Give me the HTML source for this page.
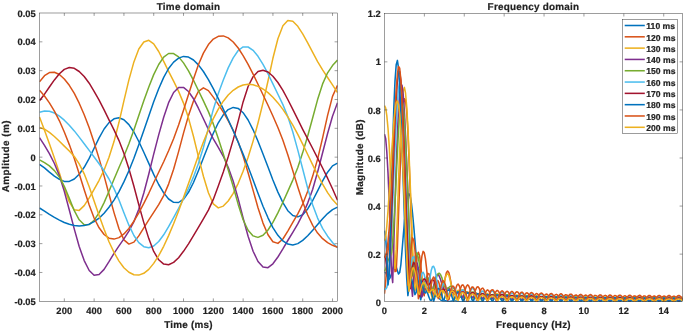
<!DOCTYPE html>
<html><head><meta charset="utf-8"><title>Time domain / Frequency domain</title>
<style>html,body{margin:0;padding:0;background:#fff}svg{display:block}</style></head>
<body>
<svg width="685" height="333" viewBox="0 0 685 333">
<rect width="685" height="333" fill="#fff"/>
<defs><clipPath id="cl"><rect x="39.50" y="13.00" width="298.00" height="288.30"/></clipPath><clipPath id="cr"><rect x="384.50" y="13.60" width="298.00" height="288.10"/></clipPath></defs>
<g clip-path="url(#cl)" fill="none" stroke-width="1.5" stroke-linejoin="round">
<path d="M39.5,164.3 L44.5,167.9 L49.4,172.1 L54.4,176.1 L59.4,179.4 L64.3,181.4 L69.3,181.4 L74.3,179.0 L79.2,174.2 L84.2,167.3 L89.2,158.4 L94.1,148.2 L99.1,137.9 L104.1,129.0 L109.0,122.6 L114.0,118.8 L119.0,117.8 L123.9,119.7 L128.9,124.6 L133.9,132.0 L138.8,141.5 L143.8,152.2 L148.8,163.4 L153.7,174.4 L158.7,184.5 L163.7,192.9 L168.6,199.0 L173.6,202.3 L178.6,202.5 L183.5,199.2 L188.5,192.3 L193.5,182.5 L198.4,170.8 L203.4,158.1 L208.4,145.3 L213.3,133.2 L218.3,122.8 L223.3,114.8 L228.2,109.6 L233.2,107.4 L238.2,108.4 L243.1,112.7 L248.1,120.0 L253.1,129.8 L258.0,141.2 L263.0,153.9 L268.0,167.0 L272.9,180.0 L277.9,192.1 L282.9,202.6 L287.8,210.7 L292.8,215.5 L297.8,216.9 L302.7,214.7 L307.7,208.9 L312.7,200.5 L317.6,190.8 L322.6,180.9 L327.6,172.2 L332.5,165.9 L337.5,163.2" stroke="#0072BD"/>
<path d="M39.5,81.9 L44.5,75.7 L49.4,72.6 L54.4,72.3 L59.4,74.5 L64.3,79.0 L69.3,85.3 L74.3,93.4 L79.2,103.2 L84.2,114.7 L89.2,127.8 L94.1,142.5 L99.1,158.6 L104.1,175.9 L109.0,194.2 L114.0,212.6 L119.0,228.7 L123.9,239.9 L128.9,244.1 L133.9,242.1 L138.8,235.9 L143.8,227.8 L148.8,219.8 L153.7,212.4 L158.7,204.7 L163.7,195.6 L168.6,184.1 L173.6,169.2 L178.6,151.6 L183.5,133.1 L188.5,115.6 L193.5,101.1 L198.4,91.4 L203.4,87.8 L208.4,90.6 L213.3,97.1 L218.3,104.4 L223.3,112.1 L228.2,120.6 L233.2,130.4 L238.2,142.1 L243.1,156.1 L248.1,172.7 L253.1,190.4 L258.0,207.8 L263.0,223.1 L268.0,234.8 L272.9,241.8 L277.9,243.4 L282.9,239.0 L287.8,231.1 L292.8,222.3 L297.8,213.9 L302.7,204.0 L307.7,191.2 L312.7,176.1 L317.6,159.1 L322.6,137.8 L327.6,115.4 L332.5,96.4 L337.5,85.4" stroke="#D95319"/>
<path d="M39.5,116.9 L44.5,130.2 L49.4,143.8 L54.4,158.0 L59.4,173.0 L64.3,188.6 L69.3,201.9 L74.3,209.8 L79.2,210.4 L84.2,205.6 L89.2,197.8 L94.1,189.3 L99.1,180.3 L104.1,169.9 L109.0,157.3 L114.0,141.6 L119.0,122.3 L123.9,100.9 L128.9,79.9 L133.9,61.9 L138.8,49.0 L143.8,42.0 L148.8,40.3 L153.7,43.8 L158.7,51.5 L163.7,61.4 L168.6,71.3 L173.6,81.2 L178.6,91.4 L183.5,103.1 L188.5,118.1 L193.5,136.5 L198.4,156.6 L203.4,176.2 L208.4,192.8 L213.3,203.9 L218.3,207.9 L223.3,206.1 L228.2,201.0 L233.2,193.3 L238.2,183.3 L243.1,171.3 L248.1,157.2 L253.1,141.1 L258.0,123.0 L263.0,102.9 L268.0,81.0 L272.9,58.3 L277.9,38.8 L282.9,25.8 L287.8,20.5 L292.8,21.2 L297.8,26.3 L302.7,33.8 L307.7,42.8 L312.7,52.4 L317.6,61.6 L322.6,69.9 L327.6,77.5 L332.5,84.9 L337.5,92.5" stroke="#EDB120"/>
<path d="M39.5,137.6 L44.5,145.4 L49.4,153.7 L54.4,163.5 L59.4,175.8 L64.3,191.4 L69.3,210.0 L74.3,229.1 L79.2,246.5 L84.2,260.6 L89.2,270.5 L94.1,275.3 L99.1,274.5 L104.1,269.4 L109.0,261.7 L114.0,253.4 L119.0,245.9 L123.9,238.9 L128.9,231.1 L133.9,221.6 L138.8,209.2 L143.8,193.0 L148.8,174.0 L153.7,154.1 L158.7,134.9 L163.7,117.3 L168.6,102.7 L173.6,92.5 L178.6,87.5 L183.5,87.4 L188.5,91.5 L193.5,98.7 L198.4,108.2 L203.4,118.8 L208.4,129.4 L213.3,138.8 L218.3,147.3 L223.3,156.3 L228.2,167.2 L233.2,181.3 L238.2,198.9 L243.1,218.0 L248.1,236.3 L253.1,251.2 L258.0,261.5 L263.0,267.1 L268.0,267.7 L272.9,263.8 L277.9,257.0 L282.9,248.9 L287.8,240.5 L292.8,232.3 L297.8,223.9 L302.7,214.4 L307.7,203.1 L312.7,189.2 L317.6,172.0 L322.6,152.7 L327.6,133.5 L332.5,116.2 L337.5,102.8" stroke="#7E2F8E"/>
<path d="M39.5,159.8 L44.5,162.6 L49.4,165.9 L54.4,170.6 L59.4,177.1 L64.3,186.3 L69.3,198.4 L74.3,210.7 L79.2,219.8 L84.2,224.7 L89.2,224.6 L94.1,220.3 L99.1,212.6 L104.1,202.6 L109.0,191.2 L114.0,179.2 L119.0,167.5 L123.9,156.2 L128.9,143.8 L133.9,129.9 L138.8,115.4 L143.8,100.8 L148.8,87.0 L153.7,74.6 L158.7,64.5 L163.7,57.2 L168.6,53.5 L173.6,53.6 L178.6,56.9 L183.5,62.9 L188.5,70.9 L193.5,80.3 L198.4,90.5 L203.4,100.9 L208.4,111.6 L213.3,123.9 L218.3,138.5 L223.3,153.9 L228.2,169.8 L233.2,186.5 L238.2,204.4 L243.1,219.7 L248.1,230.2 L253.1,235.9 L258.0,237.4 L263.0,235.2 L268.0,230.0 L272.9,222.4 L277.9,212.9 L282.9,202.3 L287.8,191.4 L292.8,180.1 L297.8,167.4 L302.7,152.6 L307.7,136.0 L312.7,117.8 L317.6,99.6 L322.6,83.9 L327.6,72.8 L332.5,65.6 L337.5,60.1" stroke="#77AC30"/>
<path d="M39.5,112.2 L44.5,110.9 L49.4,111.2 L54.4,113.0 L59.4,116.1 L64.3,120.2 L69.3,125.2 L74.3,130.9 L79.2,137.1 L84.2,143.7 L89.2,150.4 L94.1,157.0 L99.1,163.7 L104.1,170.8 L109.0,179.0 L114.0,188.6 L119.0,200.0 L123.9,212.8 L128.9,225.2 L133.9,235.5 L138.8,242.7 L143.8,246.7 L148.8,247.8 L153.7,246.0 L158.7,241.5 L163.7,234.8 L168.6,226.7 L173.6,217.6 L178.6,208.4 L183.5,198.8 L188.5,188.5 L193.5,176.9 L198.4,163.5 L203.4,147.5 L208.4,128.1 L213.3,109.4 L218.3,93.6 L223.3,80.0 L228.2,67.9 L233.2,57.8 L238.2,50.5 L243.1,46.9 L248.1,47.0 L253.1,50.3 L258.0,56.3 L263.0,64.3 L268.0,73.7 L272.9,83.9 L277.9,94.3 L282.9,104.6 L287.8,116.5 L292.8,132.0 L297.8,150.1 L302.7,169.0 L307.7,188.4 L312.7,205.0 L317.6,218.1 L322.6,228.3 L327.6,236.2 L332.5,242.5 L337.5,247.8" stroke="#4DBEEE"/>
<path d="M39.5,100.7 L44.5,94.2 L49.4,87.0 L54.4,79.9 L59.4,73.8 L64.3,69.4 L69.3,67.5 L74.3,68.3 L79.2,71.5 L84.2,76.5 L89.2,83.2 L94.1,91.3 L99.1,100.2 L104.1,109.9 L109.0,119.8 L114.0,129.9 L119.0,140.6 L123.9,153.3 L128.9,168.7 L133.9,186.3 L138.8,204.7 L143.8,222.6 L148.8,238.6 L153.7,251.4 L158.7,259.8 L163.7,264.1 L168.6,264.7 L173.6,262.4 L178.6,257.7 L183.5,251.3 L188.5,243.8 L193.5,235.7 L198.4,227.4 L203.4,218.9 L208.4,210.1 L213.3,199.4 L218.3,186.0 L223.3,171.9 L228.2,156.7 L233.2,139.9 L238.2,121.1 L243.1,101.9 L248.1,86.5 L253.1,76.7 L258.0,71.6 L263.0,70.3 L268.0,72.0 L272.9,76.2 L277.9,82.5 L282.9,90.4 L287.8,99.5 L292.8,109.3 L297.8,119.4 L302.7,129.3 L307.7,138.9 L312.7,148.5 L317.6,158.2 L322.6,168.0 L327.6,178.2 L332.5,188.8 L337.5,200.1" stroke="#A2142F"/>
<path d="M39.5,208.0 L44.5,211.2 L49.4,214.4 L54.4,217.4 L59.4,220.1 L64.3,222.5 L69.3,224.3 L74.3,225.5 L79.2,226.0 L84.2,225.6 L89.2,224.2 L94.1,221.7 L99.1,218.1 L104.1,213.3 L109.0,207.3 L114.0,200.1 L119.0,191.6 L123.9,181.9 L128.9,170.8 L133.9,158.3 L138.8,144.8 L143.8,130.6 L148.8,116.0 L153.7,101.8 L158.7,88.7 L163.7,77.4 L168.6,68.5 L173.6,62.1 L178.6,58.1 L183.5,56.4 L188.5,57.1 L193.5,60.0 L198.4,64.9 L203.4,71.5 L208.4,79.6 L213.3,88.7 L218.3,98.7 L223.3,109.1 L228.2,119.8 L233.2,130.8 L238.2,142.2 L243.1,154.1 L248.1,166.7 L253.1,179.9 L258.0,193.3 L263.0,206.2 L268.0,217.8 L272.9,227.6 L277.9,235.3 L282.9,240.9 L287.8,244.1 L292.8,245.0 L297.8,243.6 L302.7,240.4 L307.7,235.8 L312.7,230.3 L317.6,224.5 L322.6,218.8 L327.6,213.6 L332.5,209.6 L337.5,207.1" stroke="#0072BD"/>
<path d="M39.5,90.3 L44.5,96.0 L49.4,102.9 L54.4,111.2 L59.4,120.8 L64.3,132.0 L69.3,144.6 L74.3,158.6 L79.2,173.8 L84.2,189.7 L89.2,205.0 L94.1,218.0 L99.1,227.8 L104.1,234.5 L109.0,238.2 L114.0,239.1 L119.0,237.6 L123.9,233.9 L128.9,228.4 L133.9,221.2 L138.8,212.8 L143.8,203.4 L148.8,193.3 L153.7,182.8 L158.7,172.3 L163.7,161.8 L168.6,150.8 L173.6,138.7 L178.6,125.1 L183.5,110.2 L188.5,94.5 L193.5,79.0 L198.4,64.8 L203.4,53.1 L208.4,44.6 L213.3,39.1 L218.3,36.3 L223.3,35.9 L228.2,37.9 L233.2,42.0 L238.2,48.0 L243.1,55.6 L248.1,64.4 L253.1,74.1 L258.0,84.3 L263.0,94.8 L268.0,105.3 L272.9,116.0 L277.9,127.5 L282.9,140.2 L287.8,154.7 L292.8,170.7 L297.8,187.0 L302.7,202.1 L307.7,215.0 L312.7,225.3 L317.6,233.1 L322.6,238.7 L327.6,242.7 L332.5,245.3 L337.5,247.3" stroke="#D95319"/>
<path d="M39.5,127.4 L44.5,129.2 L49.4,132.4 L54.4,136.5 L59.4,141.2 L64.3,146.1 L69.3,151.0 L74.3,156.5 L79.2,163.8 L84.2,173.8 L89.2,186.7 L94.1,201.0 L99.1,215.5 L104.1,229.3 L109.0,241.7 L114.0,252.4 L119.0,261.1 L123.9,267.8 L128.9,272.3 L133.9,274.7 L138.8,275.1 L143.8,273.3 L148.8,269.4 L153.7,263.4 L158.7,255.7 L163.7,246.3 L168.6,235.6 L173.6,223.7 L178.6,210.9 L183.5,197.5 L188.5,183.5 L193.5,169.4 L198.4,155.5 L203.4,142.1 L208.4,129.7 L213.3,118.6 L218.3,109.1 L223.3,101.2 L228.2,95.0 L233.2,90.3 L238.2,87.0 L243.1,85.0 L248.1,84.3 L253.1,84.8 L258.0,86.4 L263.0,89.0 L268.0,92.6 L272.9,97.3 L277.9,102.9 L282.9,109.4 L287.8,116.8 L292.8,125.2 L297.8,134.3 L302.7,144.2 L307.7,154.5 L312.7,164.8 L317.6,174.8 L322.6,184.2 L327.6,192.6 L332.5,199.6 L337.5,205.0" stroke="#EDB120"/>
</g>
<g clip-path="url(#cr)" fill="none" stroke-width="1.55" stroke-linejoin="round">
<path d="M384.5,271.9 L385.7,272.8 L386.8,275.2 L388.0,278.0 L389.2,279.1 L390.3,277.3 L391.5,273.4 L392.7,269.0 L393.8,266.0 L395.0,265.3 L396.2,267.1 L397.4,270.8 L398.5,274.0 L399.7,272.6 L400.9,264.3 L402.0,251.3 L403.2,236.6 L404.4,222.3 L405.5,210.0 L406.7,200.6 L407.9,195.1 L409.0,193.7 L410.2,196.5 L411.4,203.2 L412.5,213.2 L413.7,225.8 L414.9,240.0 L416.1,254.7 L417.2,269.2 L418.4,282.4 L419.6,293.7 L420.7,299.8 L421.9,294.3 L423.1,290.3 L424.2,288.7 L425.4,289.0 L426.6,290.8 L427.7,293.6 L428.9,296.9 L430.1,300.1 L431.2,300.5 L432.4,298.4 L433.6,296.8 L434.8,296.0 L435.9,295.9 L437.1,296.5 L438.3,297.5 L439.4,298.6 L440.6,299.8 L441.8,300.6 L442.9,300.9 L444.1,300.9 L445.3,300.8 L446.4,301.0 L447.6,301.2 L448.8,301.5 L449.9,301.6 L451.1,301.3 L452.3,301.1 L453.4,300.9 L454.6,300.8 L455.8,300.9 L457.0,301.2 L458.1,301.4 L459.3,301.7 L460.5,302.0 L461.6,301.9 L462.8,301.7 L464.0,301.6 L465.1,301.5 L466.3,301.4 L467.5,301.4 L468.6,301.4 L469.8,301.4 L471.0,301.5 L472.1,301.6 L473.3,301.6 L474.5,301.6 L475.7,301.6 L476.8,301.6 L478.0,301.6 L479.2,301.6 L480.3,301.7 L481.5,301.8 L482.7,302.0 L483.8,302.0 L485.0,301.9 L486.2,301.8 L487.3,301.7 L488.5,301.7 L489.7,301.8 L490.8,302.0 L492.0,302.1 L493.2,302.0 L494.4,301.8 L495.5,301.7 L496.7,301.6 L497.9,301.6 L499.0,301.7 L500.2,301.8 L501.4,302.0 L502.5,302.1 L503.7,301.9 L504.9,301.7 L506.0,301.5 L507.2,301.5 L508.4,301.5 L509.5,301.6 L510.7,301.8 L511.9,301.9 L513.0,301.9 L514.2,301.8 L515.4,301.7 L516.6,301.6 L517.7,301.6 L518.9,301.7 L520.1,301.8 L521.2,302.0 L522.4,302.1 L523.6,302.0 L524.7,301.8 L525.9,301.7 L527.1,301.6 L528.2,301.7 L529.4,301.8 L530.6,302.0 L531.7,302.1 L532.9,302.0 L534.1,301.8 L535.3,301.7 L536.4,301.7 L537.6,301.7 L538.8,301.8 L539.9,301.9 L541.1,302.1 L542.3,302.1 L543.4,301.9 L544.6,301.7 L545.8,301.7 L546.9,301.7 L548.1,301.7 L549.3,301.9 L550.4,302.1 L551.6,302.1 L552.8,301.9 L554.0,301.8 L555.1,301.7 L556.3,301.6 L557.5,301.7 L558.6,301.8 L559.8,302.0 L561.0,302.2 L562.1,302.0 L563.3,301.9 L564.5,301.7 L565.6,301.7 L566.8,301.7 L568.0,301.8 L569.1,301.9 L570.3,302.1 L571.5,302.1 L572.6,301.9 L573.8,301.8 L575.0,301.7 L576.2,301.7 L577.3,301.7 L578.5,301.8 L579.7,302.0 L580.8,302.2 L582.0,302.0 L583.2,301.8 L584.3,301.7 L585.5,301.7 L586.7,301.7 L587.8,301.8 L589.0,301.9 L590.2,302.1 L591.3,302.1 L592.5,301.9 L593.7,301.8 L594.9,301.7 L596.0,301.7 L597.2,301.8 L598.4,301.9 L599.5,302.1 L600.7,302.1 L601.9,302.0 L603.0,301.8 L604.2,301.7 L605.4,301.7 L606.5,301.7 L607.7,301.9 L608.9,302.0 L610.0,302.2 L611.2,302.0 L612.4,301.9 L613.6,301.8 L614.7,301.7 L615.9,301.7 L617.1,301.8 L618.2,301.9 L619.4,302.1 L620.6,302.1 L621.7,301.9 L622.9,301.8 L624.1,301.7 L625.2,301.7 L626.4,301.8 L627.6,301.9 L628.7,302.1 L629.9,302.2 L631.1,302.0 L632.2,301.8 L633.4,301.7 L634.6,301.7 L635.8,301.7 L636.9,301.8 L638.1,302.0 L639.3,302.2 L640.4,302.1 L641.6,301.9 L642.8,301.8 L643.9,301.7 L645.1,301.7 L646.3,301.8 L647.4,301.9 L648.6,302.1 L649.8,302.1 L650.9,302.0 L652.1,301.8 L653.3,301.7 L654.5,301.7 L655.6,301.8 L656.8,301.9 L658.0,302.0 L659.1,302.2 L660.3,302.0 L661.5,301.9 L662.6,301.8 L663.8,301.7 L665.0,301.8 L666.1,301.8 L667.3,302.0 L668.5,302.1 L669.6,302.1 L670.8,301.9 L672.0,301.8 L673.2,301.7 L674.3,301.7 L675.5,301.8 L676.7,301.9 L677.8,302.1 L679.0,302.2 L680.2,302.0 L681.3,301.9 L682.5,301.8" stroke="#0072BD"/>
<path d="M384.5,293.7 L385.7,281.7 L386.8,265.3 L388.0,251.1 L389.2,240.7 L390.3,235.4 L391.5,236.3 L392.7,243.6 L393.8,256.8 L395.0,271.6 L396.2,271.0 L397.4,247.2 L398.5,215.2 L399.7,181.9 L400.9,151.1 L402.0,125.6 L403.2,107.6 L404.4,98.8 L405.5,100.0 L406.7,111.1 L407.9,131.2 L409.0,158.7 L410.2,191.0 L411.4,225.6 L412.5,259.3 L413.7,287.4 L414.9,283.6 L416.1,266.4 L417.2,255.6 L418.4,252.3 L419.6,255.8 L420.7,264.8 L421.9,277.4 L423.1,291.1 L424.2,295.8 L425.4,285.5 L426.6,277.4 L427.7,273.4 L428.9,273.8 L430.1,278.1 L431.2,285.2 L432.4,293.2 L433.6,295.4 L434.8,289.2 L435.9,283.5 L437.1,280.5 L438.3,280.9 L439.4,284.5 L440.6,290.4 L441.8,295.5 L442.9,291.8 L444.1,284.1 L445.3,277.3 L446.4,272.7 L447.6,271.0 L448.8,272.5 L449.9,276.8 L451.1,283.2 L452.3,290.4 L453.4,295.5 L454.6,293.1 L455.8,288.3 L457.0,285.0 L458.1,284.1 L459.3,285.8 L460.5,289.7 L461.6,295.0 L462.8,299.0 L464.0,295.1 L465.1,290.0 L466.3,286.4 L467.5,284.9 L468.6,285.7 L469.8,288.6 L471.0,293.2 L472.1,298.7 L473.3,299.1 L474.5,293.8 L475.7,289.6 L476.8,287.2 L478.0,286.7 L479.2,288.2 L480.3,291.5 L481.5,296.0 L482.7,301.0 L483.8,298.2 L485.0,294.0 L486.2,291.1 L487.3,289.9 L488.5,290.4 L489.7,292.7 L490.8,296.2 L492.0,300.3 L493.2,299.2 L494.4,295.2 L495.5,292.2 L496.7,290.6 L497.9,290.6 L499.0,292.2 L500.2,295.1 L501.4,298.9 L502.5,300.9 L503.7,297.1 L504.9,293.9 L506.0,291.9 L507.2,291.3 L508.4,292.2 L509.5,294.5 L510.7,297.7 L511.9,301.3 L513.0,298.8 L514.2,295.4 L515.4,292.9 L516.6,291.7 L517.7,291.9 L518.9,293.5 L520.1,296.2 L521.2,299.5 L522.4,300.8 L523.6,297.6 L524.7,294.9 L525.9,293.2 L527.1,292.8 L528.2,293.7 L529.4,295.8 L530.6,298.6 L531.7,301.8 L532.9,299.1 L534.1,296.3 L535.3,294.4 L536.4,293.5 L537.6,293.9 L538.8,295.4 L539.9,297.9 L541.1,300.8 L542.3,300.3 L543.4,297.5 L544.6,295.4 L545.8,294.2 L546.9,294.1 L548.1,295.2 L549.3,297.2 L550.4,299.9 L551.6,301.6 L552.8,298.7 L554.0,296.4 L555.1,294.9 L556.3,294.4 L557.5,295.0 L558.6,296.7 L559.8,299.0 L561.0,301.8 L562.1,299.8 L563.3,297.3 L564.5,295.6 L565.6,294.7 L566.8,294.9 L568.0,296.2 L569.1,298.2 L570.3,300.8 L571.5,300.8 L572.6,298.3 L573.8,296.3 L575.0,295.2 L576.2,295.0 L577.3,295.8 L578.5,297.5 L579.7,299.8 L580.8,301.9 L582.0,299.3 L583.2,297.1 L584.3,295.7 L585.5,295.1 L586.7,295.5 L587.8,296.9 L589.0,298.9 L590.2,301.4 L591.3,300.4 L592.5,298.1 L593.7,296.4 L594.9,295.4 L596.0,295.5 L597.2,296.4 L598.4,298.2 L599.5,300.5 L600.7,301.3 L601.9,298.9 L603.0,297.0 L604.2,295.8 L605.4,295.4 L606.5,296.0 L607.7,297.5 L608.9,299.5 L610.0,301.9 L611.2,300.0 L612.4,297.8 L613.6,296.3 L614.7,295.6 L615.9,295.8 L617.1,296.9 L618.2,298.7 L619.4,301.0 L620.6,301.0 L621.7,298.7 L622.9,297.0 L624.1,296.0 L625.2,295.8 L626.4,296.6 L627.6,298.1 L628.7,300.2 L629.9,301.8 L631.1,299.6 L632.2,297.6 L633.4,296.3 L634.6,295.9 L635.8,296.3 L636.9,297.5 L638.1,299.3 L639.3,301.6 L640.4,300.5 L641.6,298.4 L642.8,296.8 L643.9,296.0 L645.1,296.1 L646.3,297.0 L647.4,298.6 L648.6,300.7 L649.8,301.4 L650.9,299.2 L652.1,297.4 L653.3,296.3 L654.5,296.0 L655.6,296.6 L656.8,297.9 L658.0,299.8 L659.1,302.0 L660.3,300.1 L661.5,298.1 L662.6,296.7 L663.8,296.1 L665.0,296.3 L666.1,297.4 L667.3,299.1 L668.5,301.2 L669.6,300.9 L670.8,298.8 L672.0,297.2 L673.2,296.3 L674.3,296.2 L675.5,296.9 L676.7,298.4 L677.8,300.4 L679.0,301.8 L680.2,299.6 L681.3,297.8 L682.5,296.6" stroke="#D95319"/>
<path d="M384.5,105.5 L385.7,108.1 L386.8,115.6 L388.0,128.2 L389.2,145.6 L390.3,167.7 L391.5,194.0 L392.7,223.4 L393.8,252.8 L395.0,268.4 L396.2,249.4 L397.4,216.1 L398.5,181.5 L399.7,149.6 L400.9,122.8 L402.0,102.8 L403.2,90.7 L404.4,87.4 L405.5,92.8 L406.7,106.5 L407.9,127.3 L409.0,153.6 L410.2,183.4 L411.4,214.4 L412.5,244.6 L413.7,271.4 L414.9,290.5 L416.1,286.3 L417.2,276.1 L418.4,270.4 L419.6,269.7 L420.7,272.8 L421.9,278.3 L423.1,284.0 L424.2,287.4 L425.4,287.2 L426.6,285.5 L427.7,284.8 L428.9,286.1 L430.1,289.5 L431.2,294.4 L432.4,299.1 L433.6,297.0 L434.8,292.6 L435.9,289.6 L437.1,288.8 L438.3,290.4 L439.4,294.1 L440.6,298.7 L441.8,296.3 L442.9,289.6 L444.1,283.1 L445.3,278.0 L446.4,274.7 L447.6,273.8 L448.8,275.3 L449.9,279.0 L451.1,284.4 L452.3,290.8 L453.4,297.4 L454.6,300.1 L455.8,295.3 L457.0,291.8 L458.1,290.2 L459.3,290.6 L460.5,292.6 L461.6,295.9 L462.8,299.7 L464.0,299.7 L465.1,296.3 L466.3,293.6 L467.5,292.2 L468.6,292.2 L469.8,293.5 L471.0,295.9 L472.1,298.6 L473.3,299.9 L474.5,298.0 L475.7,295.9 L476.8,294.8 L478.0,294.7 L479.2,295.9 L480.3,298.0 L481.5,300.4 L482.7,299.9 L483.8,297.3 L485.0,295.1 L486.2,293.7 L487.3,293.5 L488.5,294.4 L489.7,296.2 L490.8,298.7 L492.0,300.4 L493.2,298.6 L494.4,296.2 L495.5,294.4 L496.7,293.7 L497.9,294.0 L499.0,295.3 L500.2,297.5 L501.4,299.9 L502.5,300.2 L503.7,298.0 L504.9,296.0 L506.0,294.9 L507.2,294.7 L508.4,295.5 L509.5,297.3 L510.7,299.7 L511.9,301.6 L513.0,299.3 L514.2,297.1 L515.4,295.6 L516.6,295.0 L517.7,295.3 L518.9,296.6 L520.1,298.6 L521.2,301.0 L522.4,300.5 L523.6,298.3 L524.7,296.6 L525.9,295.6 L527.1,295.6 L528.2,296.4 L529.4,298.1 L530.6,300.2 L531.7,301.4 L532.9,299.3 L534.1,297.5 L535.3,296.2 L536.4,295.8 L537.6,296.3 L538.8,297.6 L539.9,299.4 L541.1,301.2 L542.3,300.2 L543.4,298.3 L544.6,296.8 L545.8,296.1 L546.9,296.2 L548.1,297.1 L549.3,298.6 L550.4,300.5 L551.6,301.2 L552.8,299.4 L554.0,297.8 L555.1,296.8 L556.3,296.6 L557.5,297.2 L558.6,298.4 L559.8,300.1 L561.0,301.5 L562.1,300.0 L563.3,298.3 L564.5,297.1 L565.6,296.6 L566.8,296.9 L568.0,297.8 L569.1,299.3 L570.3,301.1 L571.5,300.9 L572.6,299.2 L573.8,297.8 L575.0,297.0 L576.2,296.9 L577.3,297.6 L578.5,298.8 L579.7,300.5 L580.8,301.4 L582.0,299.9 L583.2,298.4 L584.3,297.4 L585.5,297.0 L586.7,297.4 L587.8,298.4 L589.0,299.9 L590.2,301.4 L591.3,300.6 L592.5,299.0 L593.7,297.8 L594.9,297.2 L596.0,297.3 L597.2,298.0 L598.4,299.3 L599.5,300.9 L600.7,301.3 L601.9,299.7 L603.0,298.3 L604.2,297.5 L605.4,297.3 L606.5,297.8 L607.7,298.9 L608.9,300.3 L610.0,301.6 L611.2,300.3 L612.4,298.9 L613.6,297.8 L614.7,297.4 L615.9,297.6 L617.1,298.4 L618.2,299.7 L619.4,301.2 L620.6,301.0 L621.7,299.5 L622.9,298.3 L624.1,297.6 L625.2,297.6 L626.4,298.1 L627.6,299.2 L628.7,300.7 L629.9,301.5 L631.1,300.1 L632.2,298.8 L633.4,297.9 L634.6,297.6 L635.8,297.9 L636.9,298.8 L638.1,300.1 L639.3,301.5 L640.4,300.7 L641.6,299.3 L642.8,298.2 L643.9,297.7 L645.1,297.7 L646.3,298.4 L647.4,299.6 L648.6,301.0 L649.8,301.3 L650.9,299.9 L652.1,298.6 L653.3,297.8 L654.5,297.7 L655.6,298.1 L656.8,299.1 L658.0,300.5 L659.1,301.6 L660.3,300.4 L661.5,299.1 L662.6,298.1 L663.8,297.7 L665.0,297.9 L666.1,298.6 L667.3,299.9 L668.5,301.3 L669.6,301.0 L670.8,299.6 L672.0,298.5 L673.2,297.8 L674.3,297.7 L675.5,298.3 L676.7,299.4 L677.8,300.8 L679.0,301.6 L680.2,300.2 L681.3,298.9 L682.5,298.0" stroke="#EDB120"/>
<path d="M384.5,134.2 L385.7,138.6 L386.8,151.7 L388.0,172.8 L389.2,201.0 L390.3,234.9 L391.5,271.9 L392.7,282.6 L393.8,244.4 L395.0,204.4 L396.2,167.3 L397.4,135.4 L398.5,110.2 L399.7,93.0 L400.9,84.6 L402.0,85.2 L403.2,94.5 L404.4,111.6 L405.5,135.2 L406.7,163.7 L407.9,194.9 L409.0,226.9 L410.2,257.6 L411.4,285.1 L412.5,296.3 L413.7,278.9 L414.9,267.7 L416.1,262.6 L417.2,263.1 L418.4,268.4 L419.6,277.0 L420.7,287.5 L421.9,297.1 L423.1,293.4 L424.2,285.5 L425.4,279.9 L426.6,277.3 L427.7,277.9 L428.9,281.1 L430.1,285.9 L431.2,290.1 L432.4,290.1 L433.6,285.9 L434.8,280.8 L435.9,276.8 L437.1,274.7 L438.3,274.6 L439.4,276.5 L440.6,279.8 L441.8,283.7 L442.9,287.2 L444.1,289.2 L445.3,289.4 L446.4,288.7 L447.6,288.2 L448.8,288.4 L449.9,289.4 L451.1,290.8 L452.3,292.0 L453.4,292.6 L454.6,292.5 L455.8,292.3 L457.0,292.5 L458.1,293.4 L459.3,294.9 L460.5,296.7 L461.6,297.8 L462.8,296.9 L464.0,295.1 L465.1,293.4 L466.3,292.4 L467.5,292.3 L468.6,293.1 L469.8,294.6 L471.0,296.3 L472.1,297.3 L473.3,296.9 L474.5,295.7 L475.7,294.6 L476.8,294.1 L478.0,294.4 L479.2,295.4 L480.3,296.9 L481.5,298.1 L482.7,298.3 L483.8,297.4 L485.0,296.3 L486.2,295.7 L487.3,295.8 L488.5,296.5 L489.7,297.6 L490.8,298.7 L492.0,298.7 L493.2,297.7 L494.4,296.5 L495.5,295.6 L496.7,295.4 L497.9,295.9 L499.0,296.9 L500.2,298.2 L501.4,299.1 L502.5,298.8 L503.7,297.7 L504.9,296.7 L506.0,296.2 L507.2,296.3 L508.4,297.1 L509.5,298.3 L510.7,299.4 L511.9,299.6 L513.0,298.6 L514.2,297.4 L515.4,296.7 L516.6,296.5 L517.7,296.9 L518.9,297.9 L520.1,299.2 L521.2,300.1 L522.4,299.6 L523.6,298.4 L524.7,297.4 L525.9,296.9 L527.1,297.0 L528.2,297.7 L529.4,298.7 L530.6,299.7 L531.7,299.8 L532.9,299.0 L534.1,298.0 L535.3,297.4 L536.4,297.2 L537.6,297.6 L538.8,298.5 L539.9,299.5 L541.1,300.1 L542.3,299.6 L543.4,298.6 L544.6,297.8 L545.8,297.5 L546.9,297.6 L548.1,298.3 L549.3,299.2 L550.4,300.1 L551.6,300.1 L552.8,299.2 L554.0,298.4 L555.1,297.8 L556.3,297.8 L557.5,298.2 L558.6,299.0 L559.8,299.8 L561.0,300.2 L562.1,299.6 L563.3,298.8 L564.5,298.1 L565.6,297.9 L566.8,298.1 L568.0,298.8 L569.1,299.7 L570.3,300.3 L571.5,300.0 L572.6,299.2 L573.8,298.5 L575.0,298.0 L576.2,298.1 L577.3,298.6 L578.5,299.4 L579.7,300.2 L580.8,300.3 L582.0,299.7 L583.2,298.8 L584.3,298.3 L585.5,298.1 L586.7,298.4 L587.8,299.0 L589.0,299.9 L590.2,300.4 L591.3,300.1 L592.5,299.4 L593.7,298.7 L594.9,298.4 L596.0,298.5 L597.2,298.9 L598.4,299.7 L599.5,300.4 L600.7,300.4 L601.9,299.7 L603.0,299.0 L604.2,298.5 L605.4,298.4 L606.5,298.8 L607.7,299.4 L608.9,300.2 L610.0,300.5 L611.2,300.1 L612.4,299.3 L613.6,298.7 L614.7,298.5 L615.9,298.6 L617.1,299.2 L618.2,299.9 L619.4,300.5 L620.6,300.4 L621.7,299.7 L622.9,299.0 L624.1,298.6 L625.2,298.6 L626.4,299.0 L627.6,299.7 L628.7,300.4 L629.9,300.6 L631.1,300.0 L632.2,299.3 L633.4,298.8 L634.6,298.6 L635.8,298.8 L636.9,299.4 L638.1,300.1 L639.3,300.6 L640.4,300.4 L641.6,299.6 L642.8,299.0 L643.9,298.7 L645.1,298.7 L646.3,299.2 L647.4,299.9 L648.6,300.5 L649.8,300.6 L650.9,300.0 L652.1,299.3 L653.3,298.8 L654.5,298.7 L655.6,299.0 L656.8,299.6 L658.0,300.3 L659.1,300.7 L660.3,300.3 L661.5,299.5 L662.6,299.0 L663.8,298.7 L665.0,298.8 L666.1,299.3 L667.3,300.0 L668.5,300.6 L669.6,300.5 L670.8,299.8 L672.0,299.2 L673.2,298.8 L674.3,298.7 L675.5,299.1 L676.7,299.7 L677.8,300.4 L679.0,300.7 L680.2,300.2 L681.3,299.5 L682.5,298.9" stroke="#7E2F8E"/>
<path d="M384.5,271.2 L385.7,269.2 L386.8,264.9 L388.0,260.8 L389.2,258.2 L390.3,256.4 L391.5,252.5 L392.7,242.6 L393.8,225.5 L395.0,202.9 L396.2,177.6 L397.4,152.7 L398.5,130.6 L399.7,113.5 L400.9,103.2 L402.0,100.6 L403.2,106.1 L404.4,119.4 L405.5,139.6 L406.7,165.0 L407.9,193.6 L409.0,223.2 L410.2,250.8 L411.4,271.4 L412.5,275.8 L413.7,266.9 L414.9,257.9 L416.1,253.1 L417.2,253.3 L418.4,257.9 L419.6,265.7 L420.7,275.1 L421.9,283.6 L423.1,287.6 L424.2,285.2 L425.4,280.9 L426.6,278.0 L427.7,277.5 L428.9,279.5 L430.1,283.3 L431.2,287.8 L432.4,290.3 L433.6,288.5 L434.8,283.9 L435.9,279.2 L437.1,275.5 L438.3,273.5 L439.4,273.3 L440.6,274.8 L441.8,277.6 L442.9,281.2 L444.1,284.9 L445.3,287.7 L446.4,289.0 L447.6,288.6 L448.8,287.5 L449.9,286.5 L451.1,286.3 L452.3,286.8 L453.4,288.0 L454.6,289.6 L455.8,291.2 L457.0,292.2 L458.1,292.3 L459.3,291.7 L460.5,290.8 L461.6,290.2 L462.8,290.0 L464.0,290.4 L465.1,291.1 L466.3,292.0 L467.5,292.7 L468.6,293.0 L469.8,292.9 L471.0,292.5 L472.1,292.2 L473.3,292.1 L474.5,292.4 L475.7,292.9 L476.8,293.5 L478.0,294.0 L479.2,294.2 L480.3,294.1 L481.5,293.8 L482.7,293.7 L483.8,293.8 L485.0,294.1 L486.2,294.7 L487.3,295.2 L488.5,295.5 L489.7,295.4 L490.8,295.1 L492.0,294.7 L493.2,294.4 L494.4,294.3 L495.5,294.5 L496.7,294.8 L497.9,295.1 L499.0,295.3 L500.2,295.3 L501.4,295.1 L502.5,294.8 L503.7,294.6 L504.9,294.6 L506.0,294.7 L507.2,295.0 L508.4,295.3 L509.5,295.6 L510.7,295.8 L511.9,295.9 L513.0,296.0 L514.2,296.0 L515.4,296.1 L516.6,296.2 L517.7,296.2 L518.9,296.2 L520.1,296.2 L521.2,296.1 L522.4,296.0 L523.6,296.0 L524.7,296.0 L525.9,296.0 L527.1,296.1 L528.2,296.1 L529.4,296.1 L530.6,296.1 L531.7,296.1 L532.9,296.2 L534.1,296.3 L535.3,296.4 L536.4,296.5 L537.6,296.6 L538.8,296.7 L539.9,296.7 L541.1,296.8 L542.3,296.8 L543.4,296.8 L544.6,296.8 L545.8,296.8 L546.9,296.8 L548.1,296.7 L549.3,296.7 L550.4,296.6 L551.6,296.6 L552.8,296.7 L554.0,296.8 L555.1,296.9 L556.3,296.9 L557.5,296.9 L558.6,296.8 L559.8,296.8 L561.0,296.8 L562.1,296.8 L563.3,297.0 L564.5,297.1 L565.6,297.2 L566.8,297.3 L568.0,297.3 L569.1,297.2 L570.3,297.1 L571.5,297.1 L572.6,297.2 L573.8,297.2 L575.0,297.3 L576.2,297.4 L577.3,297.4 L578.5,297.3 L579.7,297.3 L580.8,297.2 L582.0,297.3 L583.2,297.3 L584.3,297.4 L585.5,297.5 L586.7,297.5 L587.8,297.5 L589.0,297.4 L590.2,297.4 L591.3,297.4 L592.5,297.4 L593.7,297.5 L594.9,297.6 L596.0,297.7 L597.2,297.7 L598.4,297.6 L599.5,297.6 L600.7,297.6 L601.9,297.6 L603.0,297.6 L604.2,297.7 L605.4,297.7 L606.5,297.8 L607.7,297.7 L608.9,297.7 L610.0,297.7 L611.2,297.6 L612.4,297.7 L613.6,297.7 L614.7,297.7 L615.9,297.7 L617.1,297.8 L618.2,297.7 L619.4,297.7 L620.6,297.7 L621.7,297.8 L622.9,297.8 L624.1,297.9 L625.2,297.9 L626.4,297.9 L627.6,297.9 L628.7,297.8 L629.9,297.8 L631.1,297.9 L632.2,297.9 L633.4,297.9 L634.6,298.0 L635.8,298.0 L636.9,297.9 L638.1,297.9 L639.3,297.9 L640.4,297.9 L641.6,297.9 L642.8,297.9 L643.9,298.0 L645.1,298.0 L646.3,298.0 L647.4,297.9 L648.6,297.9 L649.8,297.9 L650.9,298.0 L652.1,298.0 L653.3,298.1 L654.5,298.1 L655.6,298.1 L656.8,298.0 L658.0,298.0 L659.1,298.0 L660.3,298.0 L661.5,298.0 L662.6,298.1 L663.8,298.1 L665.0,298.1 L666.1,298.0 L667.3,298.0 L668.5,298.0 L669.6,298.0 L670.8,298.0 L672.0,298.0 L673.2,298.1 L674.3,298.1 L675.5,298.1 L676.7,298.0 L677.8,298.0 L679.0,298.0 L680.2,298.0 L681.3,298.1 L682.5,298.1" stroke="#77AC30"/>
<path d="M384.5,289.4 L385.7,289.2 L386.8,287.5 L388.0,281.9 L389.2,270.6 L390.3,253.6 L391.5,231.4 L392.7,205.4 L393.8,177.2 L395.0,149.1 L396.2,123.5 L397.4,102.6 L398.5,88.5 L399.7,82.7 L400.9,86.0 L402.0,98.2 L403.2,118.5 L404.4,145.2 L405.5,176.0 L406.7,207.9 L407.9,237.4 L409.0,259.4 L410.2,267.3 L411.4,263.3 L412.5,257.9 L413.7,256.6 L414.9,260.2 L416.1,267.7 L417.2,276.9 L418.4,283.6 L419.6,283.1 L420.7,277.9 L421.9,273.5 L423.1,272.2 L424.2,274.5 L425.4,280.1 L426.6,287.0 L427.7,290.3 L428.9,285.2 L430.1,277.3 L431.2,270.6 L432.4,266.7 L433.6,266.2 L434.8,269.0 L435.9,274.7 L437.1,282.4 L438.3,290.7 L439.4,295.8 L440.6,292.4 L441.8,287.4 L442.9,284.2 L444.1,283.6 L445.3,285.3 L446.4,288.9 L447.6,292.9 L448.8,294.9 L449.9,292.8 L451.1,289.6 L452.3,287.4 L453.4,286.9 L454.6,288.4 L455.8,291.5 L457.0,295.5 L458.1,298.7 L459.3,296.7 L460.5,293.2 L461.6,290.7 L462.8,289.8 L464.0,290.7 L465.1,293.1 L466.3,296.5 L467.5,298.7 L468.6,296.3 L469.8,292.7 L471.0,289.8 L472.1,288.4 L473.3,288.5 L474.5,290.2 L475.7,293.1 L476.8,296.4 L478.0,298.0 L479.2,296.1 L480.3,293.4 L481.5,291.5 L482.7,291.0 L483.8,291.9 L485.0,293.9 L486.2,296.6 L487.3,298.2 L488.5,296.7 L489.7,294.1 L490.8,292.0 L492.0,291.0 L493.2,291.4 L494.4,292.9 L495.5,295.3 L496.7,297.5 L497.9,297.7 L499.0,295.7 L500.2,293.6 L501.4,292.3 L502.5,292.1 L503.7,293.2 L504.9,295.2 L506.0,297.7 L507.2,299.3 L508.4,297.8 L509.5,295.5 L510.7,293.8 L511.9,293.1 L513.0,293.6 L514.2,295.0 L515.4,297.1 L516.6,298.7 L517.7,298.1 L518.9,296.2 L520.1,294.4 L521.2,293.4 L522.4,293.5 L523.6,294.6 L524.7,296.4 L525.9,298.5 L527.1,299.1 L528.2,297.6 L529.4,295.7 L530.6,294.4 L531.7,294.0 L532.9,294.7 L534.1,296.1 L535.3,298.1 L536.4,299.3 L537.6,298.3 L538.8,296.4 L539.9,294.9 L541.1,294.1 L542.3,294.4 L543.4,295.5 L544.6,297.2 L545.8,299.0 L546.9,299.2 L548.1,297.7 L549.3,296.1 L550.4,295.1 L551.6,294.9 L552.8,295.7 L554.0,297.1 L555.1,298.9 L556.3,299.7 L557.5,298.5 L558.6,296.8 L559.8,295.6 L561.0,295.1 L562.1,295.4 L563.3,296.6 L564.5,298.2 L565.6,299.6 L566.8,299.2 L568.0,297.7 L569.1,296.3 L570.3,295.5 L571.5,295.6 L572.6,296.4 L573.8,297.9 L575.0,299.5 L576.2,299.8 L577.3,298.4 L578.5,296.8 L579.7,295.8 L580.8,295.5 L582.0,296.1 L583.2,297.3 L584.3,298.8 L585.5,299.8 L586.7,298.9 L587.8,297.4 L589.0,296.2 L590.2,295.6 L591.3,295.9 L592.5,296.8 L593.7,298.3 L594.9,299.6 L596.0,299.6 L597.2,298.2 L598.4,296.8 L599.5,296.0 L600.7,295.9 L601.9,296.5 L603.0,297.8 L604.2,299.2 L605.4,299.8 L606.5,298.8 L607.7,297.4 L608.9,296.3 L610.0,295.9 L611.2,296.3 L612.4,297.3 L613.6,298.7 L614.7,299.9 L615.9,299.5 L617.1,298.1 L618.2,296.9 L619.4,296.2 L620.6,296.3 L621.7,297.0 L622.9,298.3 L624.1,299.7 L625.2,299.9 L626.4,298.7 L627.6,297.4 L628.7,296.5 L629.9,296.2 L631.1,296.7 L632.2,297.8 L633.4,299.2 L634.6,300.1 L635.8,299.4 L636.9,298.0 L638.1,296.9 L639.3,296.4 L640.4,296.6 L641.6,297.5 L642.8,298.8 L643.9,300.0 L645.1,299.8 L646.3,298.5 L647.4,297.3 L648.6,296.5 L649.8,296.4 L650.9,297.0 L652.1,298.2 L653.3,299.5 L654.5,300.1 L655.6,299.1 L656.8,297.8 L658.0,296.8 L659.1,296.4 L660.3,296.8 L661.5,297.8 L662.6,299.1 L663.8,300.1 L665.0,299.6 L666.1,298.3 L667.3,297.1 L668.5,296.5 L669.6,296.6 L670.8,297.3 L672.0,298.5 L673.2,299.8 L674.3,300.0 L675.5,298.8 L676.7,297.5 L677.8,296.7 L679.0,296.5 L680.2,296.9 L681.3,298.0 L682.5,299.4" stroke="#4DBEEE"/>
<path d="M384.5,255.4 L385.7,259.0 L386.8,268.8 L388.0,279.7 L389.2,273.6 L390.3,248.7 L391.5,217.3 L392.7,184.0 L393.8,151.4 L395.0,121.9 L396.2,97.7 L397.4,80.5 L398.5,71.6 L399.7,71.8 L400.9,81.0 L402.0,98.5 L403.2,123.3 L404.4,153.3 L405.5,186.5 L406.7,220.4 L407.9,252.5 L409.0,279.6 L410.2,288.8 L411.4,276.3 L412.5,266.3 L413.7,262.4 L414.9,264.1 L416.1,270.4 L417.2,279.8 L418.4,290.2 L419.6,296.6 L420.7,290.7 L421.9,284.1 L423.1,280.0 L424.2,278.8 L425.4,279.9 L426.6,282.4 L427.7,284.6 L428.9,284.8 L430.1,283.1 L431.2,280.9 L432.4,279.7 L433.6,280.2 L434.8,282.7 L435.9,286.7 L437.1,291.7 L438.3,296.0 L439.4,296.2 L440.6,293.0 L441.8,290.2 L442.9,289.1 L444.1,289.7 L445.3,292.1 L446.4,295.7 L447.6,300.0 L448.8,299.3 L449.9,295.4 L451.1,292.4 L452.3,290.8 L453.4,290.8 L454.6,292.4 L455.8,295.2 L457.0,298.6 L458.1,299.8 L459.3,296.8 L460.5,294.0 L461.6,292.2 L462.8,291.7 L464.0,292.7 L465.1,295.0 L466.3,298.2 L467.5,301.7 L468.6,298.8 L469.8,295.7 L471.0,293.5 L472.1,292.5 L473.3,292.8 L474.5,294.3 L475.7,296.8 L476.8,300.0 L478.0,300.7 L479.2,297.7 L480.3,295.3 L481.5,293.9 L482.7,293.6 L483.8,294.4 L485.0,296.3 L486.2,298.9 L487.3,301.3 L488.5,299.4 L489.7,297.0 L490.8,295.4 L492.0,294.7 L493.2,295.2 L494.4,296.7 L495.5,299.0 L496.7,301.6 L497.9,299.8 L499.0,297.3 L500.2,295.4 L501.4,294.4 L502.5,294.4 L503.7,295.4 L504.9,297.2 L506.0,299.6 L507.2,302.0 L508.4,299.5 L509.5,297.4 L510.7,296.0 L511.9,295.5 L513.0,296.0 L514.2,297.3 L515.4,299.3 L516.6,301.4 L517.7,300.3 L518.9,298.2 L520.1,296.7 L521.2,296.0 L522.4,296.1 L523.6,297.2 L524.7,298.9 L525.9,301.1 L527.1,301.0 L528.2,298.8 L529.4,297.1 L530.6,296.0 L531.7,295.8 L532.9,296.5 L534.1,297.8 L535.3,299.8 L536.4,301.9 L537.6,300.2 L538.8,298.4 L539.9,297.1 L541.1,296.5 L542.3,296.8 L543.4,297.8 L544.6,299.4 L545.8,301.3 L546.9,300.9 L548.1,299.0 L549.3,297.6 L550.4,296.8 L551.6,296.7 L552.8,297.4 L554.0,298.8 L555.1,300.6 L556.3,301.8 L557.5,299.9 L558.6,298.3 L559.8,297.2 L561.0,296.9 L562.1,297.3 L563.3,298.3 L564.5,299.9 L565.6,301.7 L566.8,300.6 L568.0,299.0 L569.1,297.7 L570.3,297.1 L571.5,297.2 L572.6,297.9 L573.8,299.3 L575.0,301.0 L576.2,301.5 L577.3,299.7 L578.5,298.3 L579.7,297.5 L580.8,297.3 L582.0,297.7 L583.2,298.8 L584.3,300.4 L585.5,301.9 L586.7,300.4 L587.8,298.9 L589.0,297.8 L590.2,297.4 L591.3,297.6 L592.5,298.5 L593.7,299.8 L594.9,301.5 L596.0,301.1 L597.2,299.5 L598.4,298.2 L599.5,297.6 L600.7,297.5 L601.9,298.1 L603.0,299.2 L604.2,300.7 L605.4,301.8 L606.5,300.2 L607.7,298.9 L608.9,297.9 L610.0,297.6 L611.2,298.0 L612.4,298.9 L613.6,300.2 L614.7,301.8 L615.9,300.8 L617.1,299.3 L618.2,298.2 L619.4,297.7 L620.6,297.8 L621.7,298.4 L622.9,299.6 L624.1,301.2 L625.2,301.5 L626.4,300.0 L627.6,298.7 L628.7,297.9 L629.9,297.8 L631.1,298.2 L632.2,299.2 L633.4,300.5 L634.6,302.0 L635.8,300.6 L636.9,299.2 L638.1,298.3 L639.3,297.8 L640.4,298.0 L641.6,298.8 L642.8,300.0 L643.9,301.5 L645.1,301.2 L646.3,299.7 L647.4,298.6 L648.6,298.0 L649.8,297.9 L650.9,298.4 L652.1,299.5 L653.3,300.9 L654.5,301.8 L655.6,300.3 L656.8,299.0 L658.0,298.2 L659.1,297.9 L660.3,298.2 L661.5,299.0 L662.6,300.3 L663.8,301.8 L665.0,300.9 L666.1,299.5 L667.3,298.5 L668.5,298.0 L669.6,298.0 L670.8,298.6 L672.0,299.8 L673.2,301.2 L674.3,301.5 L675.5,300.1 L676.7,298.9 L677.8,298.1 L679.0,297.9 L680.2,298.4 L681.3,299.3 L682.5,300.6" stroke="#A2142F"/>
<path d="M384.5,230.6 L385.7,237.2 L386.8,256.5 L388.0,284.9 L389.2,274.7 L390.3,231.9 L391.5,186.9 L392.7,144.5 L393.8,108.2 L395.0,80.9 L396.2,64.7 L397.4,60.4 L398.5,67.9 L399.7,86.1 L400.9,112.9 L402.0,145.6 L403.2,181.4 L404.4,217.2 L405.5,250.2 L406.7,278.1 L407.9,295.6 L409.0,287.2 L410.2,280.0 L411.4,278.7 L412.5,282.2 L413.7,288.7 L414.9,294.7 L416.1,292.7 L417.2,286.5 L418.4,281.8 L419.6,279.8 L420.7,280.5 L421.9,283.6 L423.1,288.1 L424.2,292.1 L425.4,293.0 L426.6,290.9 L427.7,288.6 L428.9,287.8 L430.1,288.9 L431.2,292.0 L432.4,296.4 L433.6,301.5 L434.8,297.4 L435.9,293.0 L437.1,289.8 L438.3,288.5 L439.4,289.0 L440.6,291.4 L441.8,295.1 L442.9,299.7 L444.1,299.8 L445.3,295.4 L446.4,292.1 L447.6,290.2 L448.8,289.9 L449.9,291.3 L451.1,294.1 L452.3,297.8 L453.4,301.1 L454.6,298.1 L455.8,294.9 L457.0,292.7 L458.1,292.0 L459.3,292.7 L460.5,294.7 L461.6,297.8 L462.8,301.3 L464.0,299.4 L465.1,296.2 L466.3,293.9 L467.5,292.7 L468.6,292.9 L469.8,294.3 L471.0,296.8 L472.1,300.0 L473.3,301.0 L474.5,297.9 L475.7,295.4 L476.8,293.9 L478.0,293.5 L479.2,294.4 L480.3,296.3 L481.5,298.9 L482.7,301.9 L483.8,299.5 L485.0,296.9 L486.2,295.2 L487.3,294.5 L488.5,294.8 L489.7,296.2 L490.8,298.4 L492.0,301.0 L493.2,300.5 L494.4,298.0 L495.5,296.1 L496.7,295.1 L497.9,295.0 L499.0,296.0 L500.2,297.8 L501.4,300.1 L502.5,301.7 L503.7,299.2 L504.9,297.1 L506.0,295.9 L507.2,295.4 L508.4,296.0 L509.5,297.4 L510.7,299.4 L511.9,301.8 L513.0,300.2 L514.2,298.1 L515.4,296.6 L516.6,295.8 L517.7,296.0 L518.9,297.0 L520.1,298.7 L521.2,300.9 L522.4,301.2 L523.6,299.1 L524.7,297.4 L525.9,296.4 L527.1,296.2 L528.2,296.9 L529.4,298.2 L530.6,300.1 L531.7,302.1 L532.9,300.0 L534.1,298.2 L535.3,297.0 L536.4,296.5 L537.6,296.8 L538.8,297.9 L539.9,299.5 L541.1,301.5 L542.3,300.8 L543.4,299.0 L544.6,297.6 L545.8,296.8 L546.9,296.8 L548.1,297.6 L549.3,298.9 L550.4,300.7 L551.6,301.7 L552.8,299.8 L554.0,298.2 L555.1,297.3 L556.3,297.0 L557.5,297.4 L558.6,298.5 L559.8,300.1 L561.0,302.0 L562.1,300.5 L563.3,298.9 L564.5,297.7 L565.6,297.2 L566.8,297.3 L568.0,298.2 L569.1,299.5 L570.3,301.3 L571.5,301.3 L572.6,299.6 L573.8,298.3 L575.0,297.5 L576.2,297.4 L577.3,297.9 L578.5,299.1 L579.7,300.6 L580.8,302.0 L582.0,300.3 L583.2,298.8 L584.3,297.9 L585.5,297.5 L586.7,297.8 L587.8,298.7 L589.0,300.0 L590.2,301.7 L591.3,301.0 L592.5,299.4 L593.7,298.3 L594.9,297.7 L596.0,297.7 L597.2,298.3 L598.4,299.5 L599.5,301.1 L600.7,301.7 L601.9,300.1 L603.0,298.8 L604.2,297.9 L605.4,297.7 L606.5,298.1 L607.7,299.1 L608.9,300.5 L610.0,302.1 L611.2,300.7 L612.4,299.3 L613.6,298.3 L614.7,297.8 L615.9,298.0 L617.1,298.7 L618.2,299.9 L619.4,301.4 L620.6,301.3 L621.7,299.8 L622.9,298.7 L624.1,298.0 L625.2,297.9 L626.4,298.4 L627.6,299.5 L628.7,300.9 L629.9,302.0 L631.1,300.4 L632.2,299.1 L633.4,298.3 L634.6,297.9 L635.8,298.2 L636.9,299.0 L638.1,300.3 L639.3,301.8 L640.4,301.0 L641.6,299.6 L642.8,298.6 L643.9,298.1 L645.1,298.1 L646.3,298.7 L647.4,299.8 L648.6,301.2 L649.8,301.6 L650.9,300.2 L652.1,299.0 L653.3,298.2 L654.5,298.0 L655.6,298.4 L656.8,299.3 L658.0,300.6 L659.1,302.2 L660.3,300.7 L661.5,299.4 L662.6,298.5 L663.8,298.1 L665.0,298.2 L666.1,299.0 L667.3,300.1 L668.5,301.6 L669.6,301.3 L670.8,299.9 L672.0,298.8 L673.2,298.2 L674.3,298.1 L675.5,298.6 L676.7,299.6 L677.8,301.0 L679.0,301.9 L680.2,300.4 L681.3,299.2 L682.5,298.4" stroke="#0072BD"/>
<path d="M384.5,257.8 L385.7,256.0 L386.8,250.7 L388.0,241.6 L389.2,228.3 L390.3,210.5 L391.5,188.5 L392.7,163.4 L393.8,137.0 L395.0,111.7 L396.2,89.9 L397.4,74.2 L398.5,66.5 L399.7,68.3 L400.9,80.1 L402.0,101.5 L403.2,131.3 L404.4,167.3 L405.5,207.0 L406.7,247.2 L407.9,284.8 L409.0,286.6 L410.2,261.5 L411.4,245.0 L412.5,237.9 L413.7,239.8 L414.9,249.3 L416.1,264.8 L417.2,283.6 L418.4,298.8 L419.6,281.6 L420.7,266.4 L421.9,256.1 L423.1,251.4 L424.2,252.5 L425.4,258.6 L426.6,268.6 L427.7,280.6 L428.9,291.7 L430.1,292.3 L431.2,284.8 L432.4,279.1 L433.6,277.0 L434.8,278.7 L435.9,283.7 L437.1,291.0 L438.3,298.6 L439.4,295.1 L440.6,288.0 L441.8,282.9 L442.9,280.6 L444.1,281.3 L445.3,284.7 L446.4,290.2 L447.6,296.7 L448.8,299.0 L449.9,293.3 L451.1,288.7 L452.3,286.2 L453.4,286.2 L454.6,288.6 L455.8,293.0 L457.0,298.6 L458.1,298.8 L459.3,293.1 L460.5,288.4 L461.6,285.5 L462.8,284.8 L464.0,286.4 L465.1,290.0 L466.3,295.0 L467.5,300.1 L468.6,297.0 L469.8,292.1 L471.0,288.6 L472.1,286.9 L473.3,287.3 L474.5,289.7 L475.7,293.6 L476.8,298.4 L478.0,299.4 L479.2,294.8 L480.3,290.9 L481.5,288.6 L482.7,288.1 L483.8,289.4 L485.0,292.4 L486.2,296.5 L487.3,300.3 L488.5,297.6 L489.7,293.7 L490.8,290.9 L492.0,289.7 L493.2,290.1 L494.4,292.2 L495.5,295.6 L496.7,299.5 L497.9,299.5 L499.0,295.8 L500.2,292.8 L501.4,291.1 L502.5,290.9 L503.7,292.3 L504.9,295.0 L506.0,298.5 L507.2,300.5 L508.4,297.3 L509.5,294.2 L510.7,292.1 L511.9,291.4 L513.0,292.1 L514.2,294.2 L515.4,297.3 L516.6,300.6 L517.7,299.0 L518.9,295.8 L520.1,293.4 L521.2,292.2 L522.4,292.3 L523.6,293.8 L524.7,296.4 L525.9,299.6 L527.1,300.3 L528.2,297.2 L529.4,294.6 L530.6,292.9 L531.7,292.5 L532.9,293.4 L534.1,295.5 L535.3,298.4 L536.4,301.0 L537.6,298.8 L538.8,295.9 L539.9,293.9 L541.1,293.1 L542.3,293.4 L543.4,295.0 L544.6,297.4 L545.8,300.3 L546.9,300.0 L548.1,297.2 L549.3,295.0 L550.4,293.7 L551.6,293.5 L552.8,294.6 L554.0,296.6 L555.1,299.3 L556.3,301.0 L557.5,298.5 L558.6,296.1 L559.8,294.4 L561.0,293.8 L562.1,294.4 L563.3,296.0 L564.5,298.4 L565.6,300.9 L566.8,299.7 L568.0,297.1 L569.1,295.2 L570.3,294.2 L571.5,294.3 L572.6,295.5 L573.8,297.5 L575.0,300.1 L576.2,300.7 L577.3,298.2 L578.5,296.1 L579.7,294.7 L580.8,294.4 L582.0,295.1 L583.2,296.8 L584.3,299.1 L585.5,301.2 L586.7,299.3 L587.8,297.0 L589.0,295.3 L590.2,294.6 L591.3,294.9 L592.5,296.2 L593.7,298.2 L594.9,300.6 L596.0,300.3 L597.2,298.0 L598.4,296.1 L599.5,295.0 L600.7,294.9 L601.9,295.8 L603.0,297.5 L604.2,299.8 L605.4,301.1 L606.5,299.0 L607.7,296.9 L608.9,295.5 L610.0,295.0 L611.2,295.5 L612.4,296.8 L613.6,298.9 L614.7,301.1 L615.9,300.0 L617.1,297.7 L618.2,296.0 L619.4,295.2 L620.6,295.3 L621.7,296.3 L622.9,298.1 L624.1,300.3 L625.2,300.8 L626.4,298.6 L627.6,296.7 L628.7,295.5 L629.9,295.2 L631.1,295.9 L632.2,297.4 L633.4,299.5 L634.6,301.3 L635.8,299.6 L636.9,297.5 L638.1,296.0 L639.3,295.3 L640.4,295.6 L641.6,296.8 L642.8,298.6 L643.9,300.8 L645.1,300.5 L646.3,298.3 L647.4,296.6 L648.6,295.6 L649.8,295.5 L650.9,296.3 L652.1,297.9 L653.3,300.0 L654.5,301.2 L655.6,299.2 L656.8,297.2 L658.0,295.9 L659.1,295.4 L660.3,295.9 L661.5,297.2 L662.6,299.1 L663.8,301.2 L665.0,300.1 L666.1,298.0 L667.3,296.4 L668.5,295.6 L669.6,295.6 L670.8,296.6 L672.0,298.3 L673.2,300.5 L674.3,300.9 L675.5,298.8 L676.7,296.9 L677.8,295.8 L679.0,295.5 L680.2,296.1 L681.3,297.6 L682.5,299.6" stroke="#D95319"/>
<path d="M384.5,240.9 L385.7,236.9 L386.8,226.1 L388.0,210.9 L389.2,193.0 L390.3,174.0 L391.5,155.1 L392.7,137.4 L393.8,122.0 L395.0,110.2 L396.2,102.8 L397.4,100.8 L398.5,104.7 L399.7,114.5 L400.9,129.9 L402.0,150.4 L403.2,174.6 L404.4,201.3 L405.5,228.7 L406.7,255.1 L407.9,278.2 L409.0,291.1 L410.2,283.0 L411.4,273.4 L412.5,268.3 L413.7,267.8 L414.9,271.4 L416.1,277.9 L417.2,286.0 L418.4,293.4 L419.6,294.3 L420.7,289.3 L421.9,284.9 L423.1,282.6 L424.2,282.7 L425.4,284.7 L426.6,288.0 L427.7,291.1 L428.9,292.7 L430.1,291.9 L431.2,290.4 L432.4,289.5 L433.6,290.0 L434.8,291.8 L435.9,294.5 L437.1,296.8 L438.3,296.6 L439.4,294.1 L440.6,291.8 L441.8,290.4 L442.9,290.4 L444.1,291.9 L445.3,294.5 L446.4,297.7 L447.6,299.4 L448.8,296.9 L449.9,293.9 L451.1,291.8 L452.3,290.9 L453.4,291.5 L454.6,293.3 L455.8,296.2 L457.0,299.6 L458.1,300.3 L459.3,297.2 L460.5,294.5 L461.6,292.9 L462.8,292.5 L464.0,293.4 L465.1,295.3 L466.3,298.0 L467.5,300.6 L468.6,299.4 L469.8,296.8 L471.0,294.9 L472.1,294.0 L473.3,294.1 L474.5,295.2 L475.7,297.2 L476.8,299.6 L478.0,300.5 L479.2,298.6 L480.3,296.6 L481.5,295.4 L482.7,295.0 L483.8,295.6 L485.0,297.1 L486.2,299.0 L487.3,300.5 L488.5,299.6 L489.7,297.8 L490.8,296.5 L492.0,295.9 L493.2,296.1 L494.4,297.1 L495.5,298.6 L496.7,300.2 L497.9,300.2 L499.0,298.7 L500.2,297.3 L501.4,296.5 L502.5,296.4 L503.7,297.1 L504.9,298.4 L506.0,300.0 L507.2,300.7 L508.4,299.5 L509.5,298.0 L510.7,297.1 L511.9,296.7 L513.0,297.1 L514.2,298.1 L515.4,299.6 L516.6,300.8 L517.7,300.2 L518.9,298.8 L520.1,297.6 L521.2,297.0 L522.4,297.1 L523.6,297.9 L524.7,299.1 L525.9,300.5 L527.1,300.8 L528.2,299.6 L529.4,298.3 L530.6,297.5 L531.7,297.3 L532.9,297.8 L534.1,298.8 L535.3,300.1 L536.4,301.1 L537.6,300.2 L538.8,299.0 L539.9,298.0 L541.1,297.6 L542.3,297.8 L543.4,298.5 L544.6,299.6 L545.8,300.9 L546.9,300.8 L548.1,299.6 L549.3,298.5 L550.4,297.9 L551.6,297.9 L552.8,298.4 L554.0,299.3 L555.1,300.5 L556.3,301.1 L557.5,300.2 L558.6,299.0 L559.8,298.3 L561.0,298.0 L562.1,298.3 L563.3,299.0 L564.5,300.1 L565.6,301.1 L566.8,300.7 L568.0,299.5 L569.1,298.6 L570.3,298.2 L571.5,298.2 L572.6,298.8 L573.8,299.7 L575.0,300.9 L576.2,301.1 L577.3,300.1 L578.5,299.1 L579.7,298.4 L580.8,298.3 L582.0,298.6 L583.2,299.4 L584.3,300.5 L585.5,301.3 L586.7,300.6 L587.8,299.5 L589.0,298.7 L590.2,298.4 L591.3,298.5 L592.5,299.1 L593.7,300.1 L594.9,301.1 L596.0,301.0 L597.2,300.0 L598.4,299.1 L599.5,298.6 L600.7,298.5 L601.9,298.9 L603.0,299.8 L604.2,300.8 L605.4,301.3 L606.5,300.5 L607.7,299.5 L608.9,298.8 L610.0,298.6 L611.2,298.8 L612.4,299.5 L613.6,300.4 L614.7,301.3 L615.9,300.9 L617.1,299.9 L618.2,299.1 L619.4,298.7 L620.6,298.7 L621.7,299.2 L622.9,300.1 L624.1,301.0 L625.2,301.2 L626.4,300.3 L627.6,299.4 L628.7,298.9 L629.9,298.7 L631.1,299.0 L632.2,299.7 L633.4,300.7 L634.6,301.3 L635.8,300.7 L636.9,299.8 L638.1,299.1 L639.3,298.8 L640.4,298.9 L641.6,299.5 L642.8,300.3 L643.9,301.2 L645.1,301.1 L646.3,300.2 L647.4,299.3 L648.6,298.9 L649.8,298.8 L650.9,299.2 L652.1,300.0 L653.3,300.9 L654.5,301.3 L655.6,300.6 L656.8,299.7 L658.0,299.0 L659.1,298.8 L660.3,299.0 L661.5,299.7 L662.6,300.5 L663.8,301.3 L665.0,300.9 L666.1,300.0 L667.3,299.3 L668.5,298.9 L669.6,298.9 L670.8,299.4 L672.0,300.2 L673.2,301.1 L674.3,301.2 L675.5,300.4 L676.7,299.5 L677.8,299.0 L679.0,298.9 L680.2,299.2 L681.3,299.8 L682.5,300.8" stroke="#EDB120"/>
</g>
<g stroke="#262626" stroke-width="0.45" fill="none">
<rect x="39.50" y="13.00" width="298.00" height="288.30"/>
<rect x="384.50" y="13.60" width="298.00" height="288.10"/>
<line x1="64.33" y1="301.30" x2="64.33" y2="298.40"/>
<line x1="64.33" y1="13.00" x2="64.33" y2="15.90"/>
<line x1="94.13" y1="301.30" x2="94.13" y2="298.40"/>
<line x1="94.13" y1="13.00" x2="94.13" y2="15.90"/>
<line x1="123.93" y1="301.30" x2="123.93" y2="298.40"/>
<line x1="123.93" y1="13.00" x2="123.93" y2="15.90"/>
<line x1="153.73" y1="301.30" x2="153.73" y2="298.40"/>
<line x1="153.73" y1="13.00" x2="153.73" y2="15.90"/>
<line x1="183.53" y1="301.30" x2="183.53" y2="298.40"/>
<line x1="183.53" y1="13.00" x2="183.53" y2="15.90"/>
<line x1="213.33" y1="301.30" x2="213.33" y2="298.40"/>
<line x1="213.33" y1="13.00" x2="213.33" y2="15.90"/>
<line x1="243.13" y1="301.30" x2="243.13" y2="298.40"/>
<line x1="243.13" y1="13.00" x2="243.13" y2="15.90"/>
<line x1="272.93" y1="301.30" x2="272.93" y2="298.40"/>
<line x1="272.93" y1="13.00" x2="272.93" y2="15.90"/>
<line x1="302.73" y1="301.30" x2="302.73" y2="298.40"/>
<line x1="302.73" y1="13.00" x2="302.73" y2="15.90"/>
<line x1="332.53" y1="301.30" x2="332.53" y2="298.40"/>
<line x1="332.53" y1="13.00" x2="332.53" y2="15.90"/>
<line x1="39.50" y1="272.47" x2="42.40" y2="272.47"/>
<line x1="337.50" y1="272.47" x2="334.60" y2="272.47"/>
<line x1="39.50" y1="243.64" x2="42.40" y2="243.64"/>
<line x1="337.50" y1="243.64" x2="334.60" y2="243.64"/>
<line x1="39.50" y1="214.81" x2="42.40" y2="214.81"/>
<line x1="337.50" y1="214.81" x2="334.60" y2="214.81"/>
<line x1="39.50" y1="185.98" x2="42.40" y2="185.98"/>
<line x1="337.50" y1="185.98" x2="334.60" y2="185.98"/>
<line x1="39.50" y1="157.15" x2="42.40" y2="157.15"/>
<line x1="337.50" y1="157.15" x2="334.60" y2="157.15"/>
<line x1="39.50" y1="128.32" x2="42.40" y2="128.32"/>
<line x1="337.50" y1="128.32" x2="334.60" y2="128.32"/>
<line x1="39.50" y1="99.49" x2="42.40" y2="99.49"/>
<line x1="337.50" y1="99.49" x2="334.60" y2="99.49"/>
<line x1="39.50" y1="70.66" x2="42.40" y2="70.66"/>
<line x1="337.50" y1="70.66" x2="334.60" y2="70.66"/>
<line x1="39.50" y1="41.83" x2="42.40" y2="41.83"/>
<line x1="337.50" y1="41.83" x2="334.60" y2="41.83"/>
<line x1="424.39" y1="301.70" x2="424.39" y2="298.80"/>
<line x1="424.39" y1="13.60" x2="424.39" y2="16.50"/>
<line x1="464.28" y1="301.70" x2="464.28" y2="298.80"/>
<line x1="464.28" y1="13.60" x2="464.28" y2="16.50"/>
<line x1="504.17" y1="301.70" x2="504.17" y2="298.80"/>
<line x1="504.17" y1="13.60" x2="504.17" y2="16.50"/>
<line x1="544.06" y1="301.70" x2="544.06" y2="298.80"/>
<line x1="544.06" y1="13.60" x2="544.06" y2="16.50"/>
<line x1="583.95" y1="301.70" x2="583.95" y2="298.80"/>
<line x1="583.95" y1="13.60" x2="583.95" y2="16.50"/>
<line x1="623.83" y1="301.70" x2="623.83" y2="298.80"/>
<line x1="623.83" y1="13.60" x2="623.83" y2="16.50"/>
<line x1="663.72" y1="301.70" x2="663.72" y2="298.80"/>
<line x1="663.72" y1="13.60" x2="663.72" y2="16.50"/>
<line x1="384.50" y1="254.13" x2="387.40" y2="254.13"/>
<line x1="682.50" y1="254.13" x2="679.60" y2="254.13"/>
<line x1="384.50" y1="206.07" x2="387.40" y2="206.07"/>
<line x1="682.50" y1="206.07" x2="679.60" y2="206.07"/>
<line x1="384.50" y1="158.00" x2="387.40" y2="158.00"/>
<line x1="682.50" y1="158.00" x2="679.60" y2="158.00"/>
<line x1="384.50" y1="109.93" x2="387.40" y2="109.93"/>
<line x1="682.50" y1="109.93" x2="679.60" y2="109.93"/>
<line x1="384.50" y1="61.87" x2="387.40" y2="61.87"/>
<line x1="682.50" y1="61.87" x2="679.60" y2="61.87"/>
</g>
<g font-family="'Liberation Sans', Arial, Helvetica, sans-serif" font-weight="bold" fill="#222" letter-spacing="0.15" text-rendering="geometricPrecision" stroke="#222" stroke-width="0.2">
<text x="64.33" y="313.60" font-size="9.3" text-anchor="middle">200</text>
<text x="94.13" y="313.60" font-size="9.3" text-anchor="middle">400</text>
<text x="123.93" y="313.60" font-size="9.3" text-anchor="middle">600</text>
<text x="153.73" y="313.60" font-size="9.3" text-anchor="middle">800</text>
<text x="183.53" y="313.60" font-size="9.3" text-anchor="middle">1000</text>
<text x="213.33" y="313.60" font-size="9.3" text-anchor="middle">1200</text>
<text x="243.13" y="313.60" font-size="9.3" text-anchor="middle">1400</text>
<text x="272.93" y="313.60" font-size="9.3" text-anchor="middle">1600</text>
<text x="302.73" y="313.60" font-size="9.3" text-anchor="middle">1800</text>
<text x="332.53" y="313.60" font-size="9.3" text-anchor="middle">2000</text>
<text x="35.60" y="304.90" font-size="9.3" text-anchor="end" letter-spacing="0">-0.05</text>
<text x="35.60" y="276.07" font-size="9.3" text-anchor="end" letter-spacing="0">-0.04</text>
<text x="35.60" y="247.24" font-size="9.3" text-anchor="end" letter-spacing="0">-0.03</text>
<text x="35.60" y="218.41" font-size="9.3" text-anchor="end" letter-spacing="0">-0.02</text>
<text x="35.60" y="189.58" font-size="9.3" text-anchor="end" letter-spacing="0">-0.01</text>
<text x="35.60" y="160.75" font-size="9.3" text-anchor="end" letter-spacing="0">0</text>
<text x="35.60" y="131.92" font-size="9.3" text-anchor="end" letter-spacing="0">0.01</text>
<text x="35.60" y="103.09" font-size="9.3" text-anchor="end" letter-spacing="0">0.02</text>
<text x="35.60" y="74.26" font-size="9.3" text-anchor="end" letter-spacing="0">0.03</text>
<text x="35.60" y="45.43" font-size="9.3" text-anchor="end" letter-spacing="0">0.04</text>
<text x="35.60" y="16.60" font-size="9.3" text-anchor="end" letter-spacing="0">0.05</text>
<text x="384.50" y="314.20" font-size="9.3" text-anchor="middle">0</text>
<text x="424.39" y="314.20" font-size="9.3" text-anchor="middle">2</text>
<text x="464.28" y="314.20" font-size="9.3" text-anchor="middle">4</text>
<text x="504.17" y="314.20" font-size="9.3" text-anchor="middle">6</text>
<text x="544.06" y="314.20" font-size="9.3" text-anchor="middle">8</text>
<text x="583.95" y="314.20" font-size="9.3" text-anchor="middle">10</text>
<text x="623.83" y="314.20" font-size="9.3" text-anchor="middle">12</text>
<text x="663.72" y="314.20" font-size="9.3" text-anchor="middle">14</text>
<text x="380.80" y="305.80" font-size="9.3" text-anchor="end" letter-spacing="0">0</text>
<text x="380.80" y="257.73" font-size="9.3" text-anchor="end" letter-spacing="0">0.2</text>
<text x="380.80" y="209.67" font-size="9.3" text-anchor="end" letter-spacing="0">0.4</text>
<text x="380.80" y="161.60" font-size="9.3" text-anchor="end" letter-spacing="0">0.6</text>
<text x="380.80" y="113.53" font-size="9.3" text-anchor="end" letter-spacing="0">0.8</text>
<text x="380.80" y="65.47" font-size="9.3" text-anchor="end" letter-spacing="0">1</text>
<text x="380.80" y="17.40" font-size="9.3" text-anchor="end" letter-spacing="0">1.2</text>
<text x="188.50" y="9.70" font-size="9.9" text-anchor="middle" letter-spacing="0.25">Time domain</text>
<text x="533.50" y="9.70" font-size="9.9" text-anchor="middle" letter-spacing="0.25">Frequency domain</text>
<text x="188.50" y="327.80" font-size="9.9" text-anchor="middle" letter-spacing="0.25">Time (ms)</text>
<text x="533.50" y="327.80" font-size="9.9" text-anchor="middle" letter-spacing="0.25">Frequency (Hz)</text>
<text x="0.00" y="0.00" font-size="9.9" text-anchor="middle" letter-spacing="0.45" transform="translate(9.0,156.2) rotate(-90)">Amplitude (m)</text>
<text x="0.00" y="0.00" font-size="9.9" text-anchor="middle" letter-spacing="0.3" transform="translate(363.0,157.2) rotate(-90)">Magnitude (dB)</text>
</g>
<rect x="622.5" y="19.3" width="55.0" height="114.1" fill="#fff" stroke="#262626" stroke-width="0.45"/>
<g font-family="'Liberation Sans', Arial, Helvetica, sans-serif" font-weight="bold" fill="#222" font-size="8.6" text-rendering="geometricPrecision" stroke="#222" stroke-width="0.2">
<line x1="624.7" y1="25.50" x2="644.8" y2="25.50" stroke="#0072BD" stroke-width="1.55"/>
<text x="646.3" y="29.25">110 ms</text>
<line x1="624.7" y1="36.81" x2="644.8" y2="36.81" stroke="#D95319" stroke-width="1.55"/>
<text x="646.3" y="40.56">120 ms</text>
<line x1="624.7" y1="48.12" x2="644.8" y2="48.12" stroke="#EDB120" stroke-width="1.55"/>
<text x="646.3" y="51.87">130 ms</text>
<line x1="624.7" y1="59.43" x2="644.8" y2="59.43" stroke="#7E2F8E" stroke-width="1.55"/>
<text x="646.3" y="63.18">140 ms</text>
<line x1="624.7" y1="70.74" x2="644.8" y2="70.74" stroke="#77AC30" stroke-width="1.55"/>
<text x="646.3" y="74.49">150 ms</text>
<line x1="624.7" y1="82.05" x2="644.8" y2="82.05" stroke="#4DBEEE" stroke-width="1.55"/>
<text x="646.3" y="85.80">160 ms</text>
<line x1="624.7" y1="93.36" x2="644.8" y2="93.36" stroke="#A2142F" stroke-width="1.55"/>
<text x="646.3" y="97.11">170 ms</text>
<line x1="624.7" y1="104.67" x2="644.8" y2="104.67" stroke="#0072BD" stroke-width="1.55"/>
<text x="646.3" y="108.42">180 ms</text>
<line x1="624.7" y1="115.98" x2="644.8" y2="115.98" stroke="#D95319" stroke-width="1.55"/>
<text x="646.3" y="119.73">190 ms</text>
<line x1="624.7" y1="127.29" x2="644.8" y2="127.29" stroke="#EDB120" stroke-width="1.55"/>
<text x="646.3" y="131.04">200 ms</text>
</g>
</svg>
</body></html>
